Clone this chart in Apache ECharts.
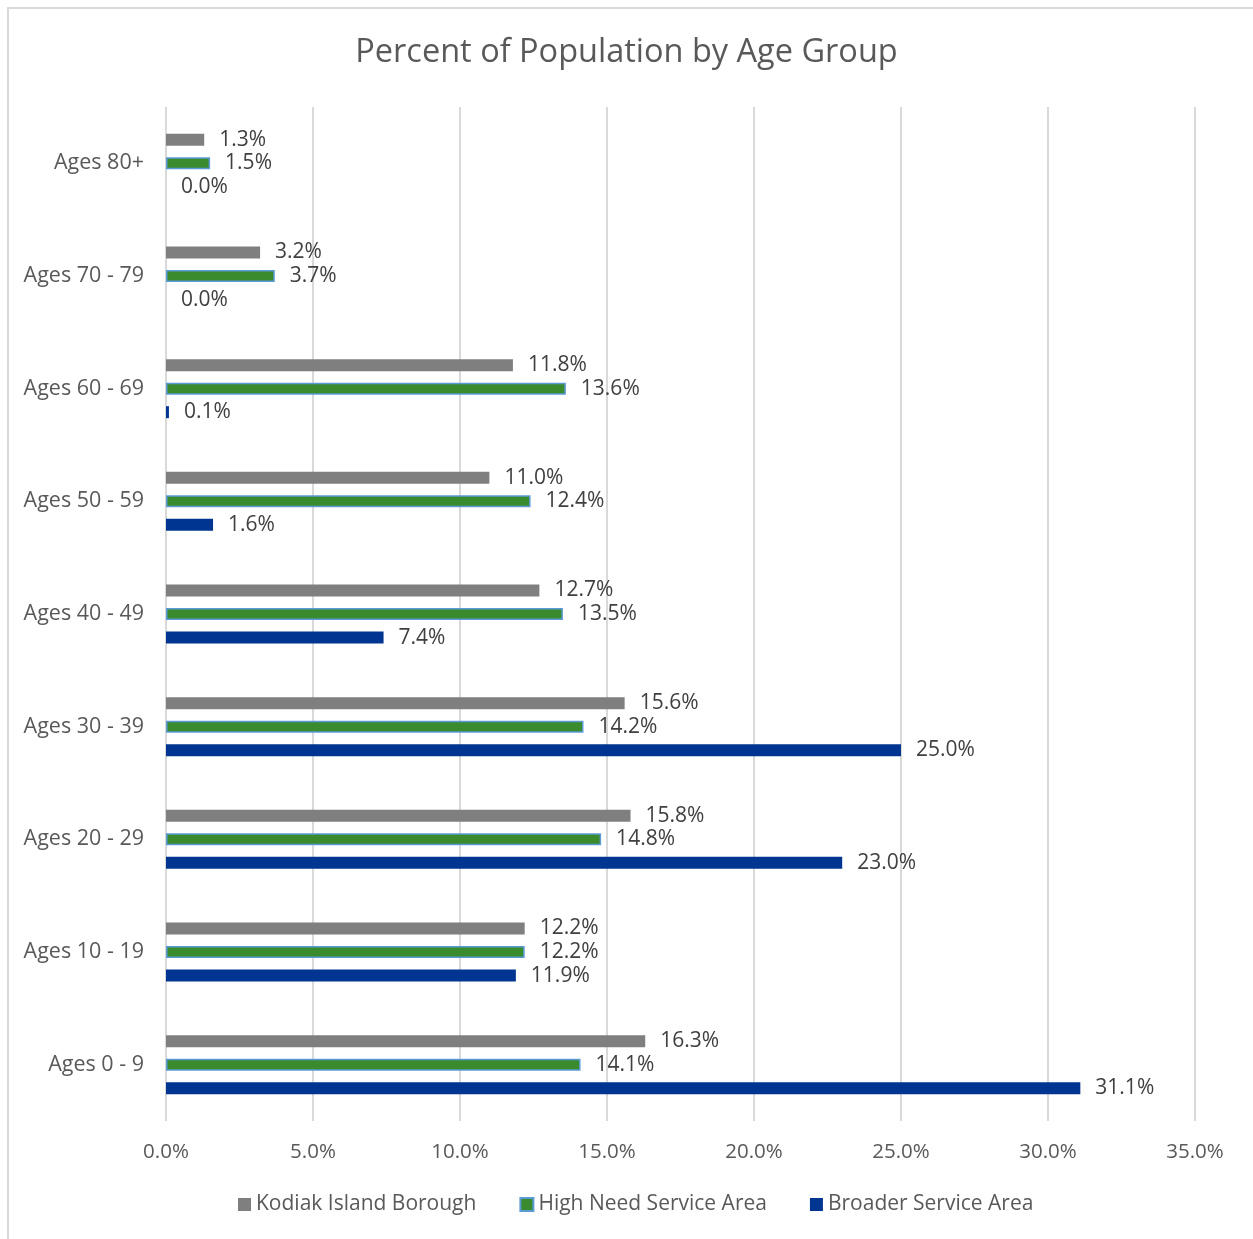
<!DOCTYPE html>
<html><head><meta charset="utf-8">
<script src="https://cdn.jsdelivr.net/npm/echarts@6/dist/echarts.min.js"></script>
<style>
html,body{margin:0;padding:0;background:#fff;}
#frame{position:absolute;left:7px;top:7px;width:1260px;height:1250px;border:2px solid #d9d9d9;box-sizing:border-box;}
#main{position:absolute;left:0;top:0;width:1253px;height:1239px;}
</style></head>
<body>
<div id="frame"></div>
<div id="main"></div>
<script>
const categories = ['Ages 0 - 9','Ages 10 - 19','Ages 20 - 29','Ages 30 - 39','Ages 40 - 49','Ages 50 - 59','Ages 60 - 69','Ages 70 - 79','Ages 80+'];
const kodiak = [16.3,12.2,15.8,15.6,12.7,11.0,11.8,3.2,1.3];
const highNeed = [14.1,12.2,14.8,14.2,13.5,12.4,13.6,3.7,1.5];
const broader = [31.1,11.9,23.0,25.0,7.4,1.6,0.1,0.0,0.0];
const xTicks = [0,5,10,15,20,25,30,35];

const FONT = 'Open Sans';
const lbl = {show:true, position:'right', distance:15, color:'#404040', fontSize:21, fontFamily:FONT,
  formatter: p => p.value.toFixed(1) + '%'};
const chart = echarts.init(document.getElementById('main'));
chart.setOption({
  animation:false,
  title:{text:'Percent of Population by Age Group', left:'center', top:31,
    textStyle:{color:'#595959', fontSize:32.5, fontWeight:'normal', fontFamily:FONT}},
  legend:{bottom:19, left:233, icon:'rect', itemWidth:13, itemHeight:13, itemGap:43,
    textStyle:{color:'#595959', fontSize:21, fontFamily:FONT},
    data:['Kodiak Island Borough','High Need Service Area','Broader Service Area']},
  grid:{left:166, right:58, top:107, bottom:118},
  xAxis:{type:'value', min:xTicks[0], max:xTicks[xTicks.length-1], interval:5,
    axisLine:{show:false}, axisTick:{show:false},
    splitLine:{lineStyle:{color:'#d9d9d9', width:2}},
    axisLabel:{color:'#595959', fontSize:20.5, fontFamily:FONT, margin:21,
      formatter: v => v.toFixed(1) + '%'}},
  yAxis:{type:'category', data:categories,
    axisLine:{show:false}, axisTick:{show:false},
    axisLabel:{color:'#595959', fontSize:21.5, fontFamily:FONT, margin:22}},
  series:[
    {name:'Kodiak Island Borough', type:'bar', data:kodiak, barWidth:12, barGap:'96%',
      itemStyle:{color:'#7f7f7f'}, label:lbl},
    {name:'High Need Service Area', type:'bar', data:highNeed, barWidth:12, barGap:'96%',
      itemStyle:{color:'#3a8a2e', borderColor:'#5b9bd5', borderWidth:1.5}, label:lbl},
    {name:'Broader Service Area', type:'bar', data:broader, barWidth:12, barGap:'96%',
      itemStyle:{color:'#003591'}, label:lbl}
  ]
});
</script>
</body></html>
